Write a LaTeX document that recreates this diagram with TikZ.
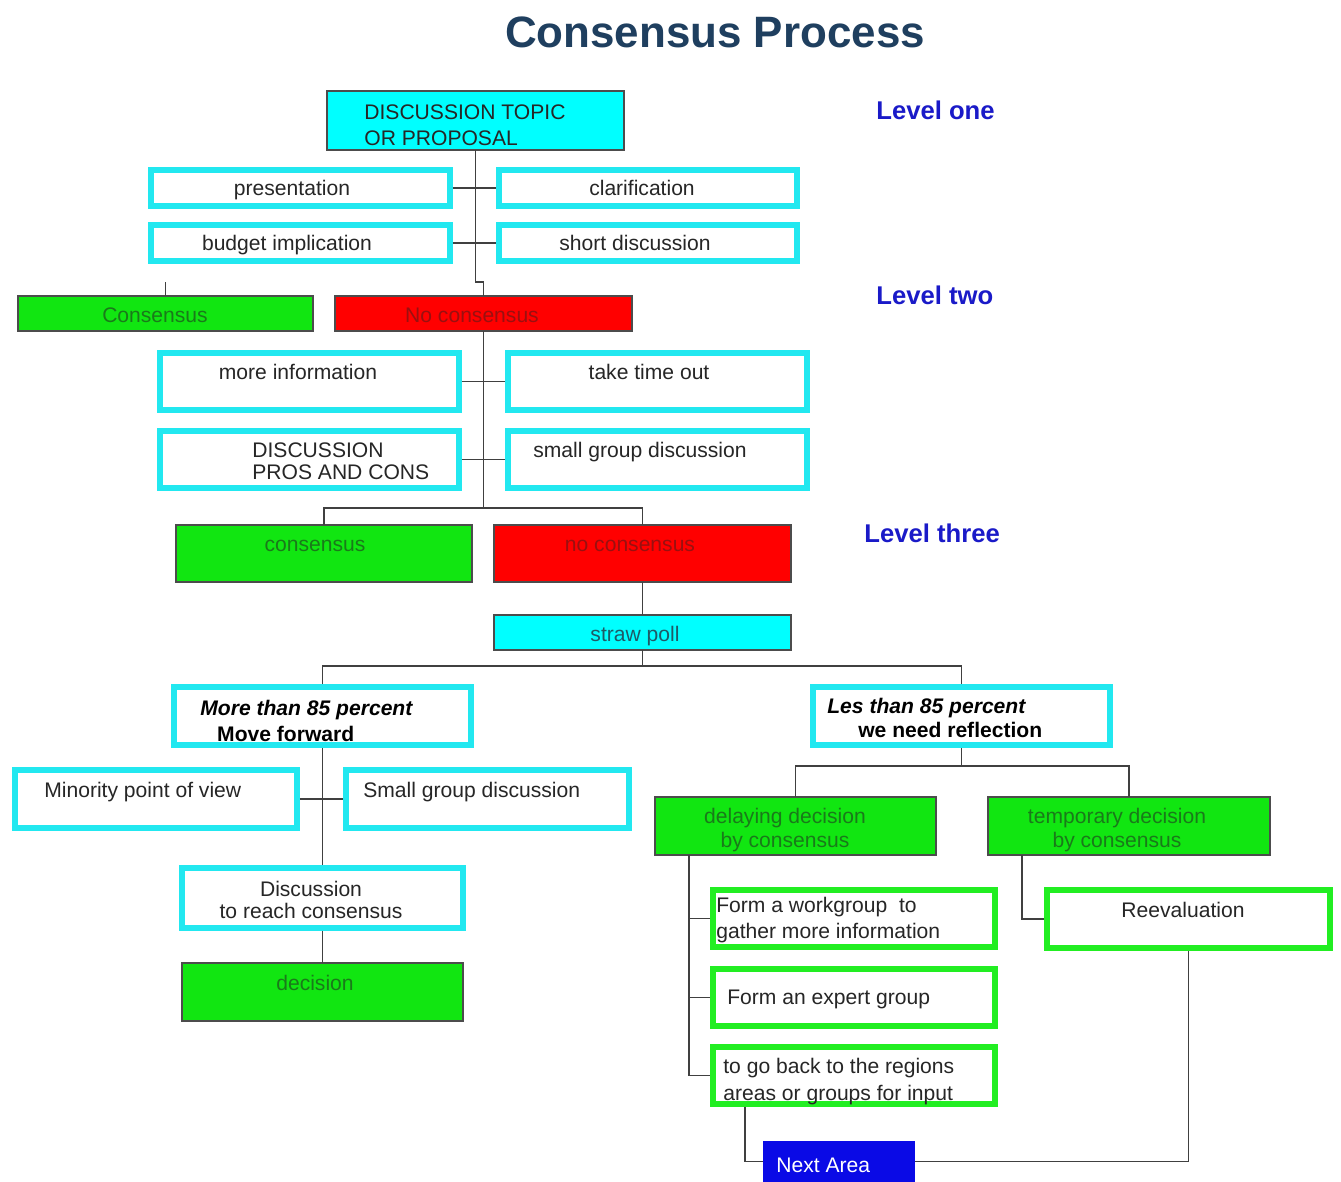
\documentclass[tikz,border=0pt]{standalone}
\usepackage{fontspec}
\setmainfont{Liberation Sans}
\usetikzlibrary{fit}
\definecolor{topiccyan}{HTML}{00FFFF}
\definecolor{framecyan}{HTML}{22E8F0}
\definecolor{agreegreen}{HTML}{11E611}
\definecolor{framegreen}{HTML}{22EE22}
\definecolor{agreetext}{HTML}{1A7A1A}
\definecolor{blockred}{HTML}{FF0000}
\definecolor{blocktext}{HTML}{9A1010}
\definecolor{pollteal}{HTML}{1F5A66}
\definecolor{nextblue}{HTML}{0A0AE6}
\definecolor{titleblue}{HTML}{1F3F5F}
\definecolor{levelblue}{HTML}{1A1AC8}

\tikzset{
  fillbox/.style={rectangle, inner sep=0pt, outer sep=0pt, draw=black!70, line width=0.6pt},
  cyanframe/.style={rectangle, inner sep=0pt, draw=framecyan, line width=3.4pt, fill=white},
  greenframe/.style={rectangle, inner sep=0pt, draw=framegreen, line width=3.4pt, fill=white},
  lbl/.style={inner sep=0pt, text=black!85, font=\fontsize{12}{15}\selectfont},
  levellbl/.style={inner sep=0pt, anchor=base west, text=levelblue, font=\fontsize{14.6}{17}\selectfont\bfseries},
  conn/.style={draw=black!75, line width=0.8pt}
}

\begin{document}
\begin{tikzpicture}[x=0.02cm, y=-0.02cm]

  % Canvas
  \fill[white] (0,0) rectangle (1341,1182);
  \useasboundingbox (0,0) rectangle (1341,1182);

  % Title and levels
  \node[inner sep=0pt, anchor=base, text=titleblue, font=\fontsize{25}{30}\selectfont\bfseries] (title) at (715,48) {Consensus Process};
  \node[levellbl] (lvlone) at (876,120) {Level one};
  \node[levellbl] (lvltwo) at (876,305) {Level two};
  \node[levellbl] (lvlthree) at (864,542) {Level three};

  % ==================== LEVEL ONE ====================
  \node[fillbox, fill=topiccyan, fit={(327,91) (624,150)}] (topic) {};
  \node[lbl, anchor=north west, align=left, font=\fontsize{12}{14.7}\selectfont] at (364,104.6) {DISCUSSION TOPIC\\OR PROPOSAL};

  \node[cyanframe, fit={(151,170) (450,206)}] (pres) {};
  \node[lbl, anchor=base] at (292,196) {presentation};
  \node[cyanframe, fit={(499,170) (797,206)}] (clar) {};
  \node[lbl, anchor=base] at (642,196) {clarification};
  \node[cyanframe, fit={(151,225) (450,261)}] (budget) {};
  \node[lbl, anchor=base] at (287,251) {budget implication};
  \node[cyanframe, fit={(499,225) (797,261)}] (short) {};
  \node[lbl, anchor=base] at (635,251) {short discussion};

  \node[fillbox, fill=agreegreen, fit={(18,296) (313,331)}] (cons) {};
  \node[lbl, anchor=base, text=agreetext] at (155,322) {Consensus};
  \node[fillbox, fill=blockred, fit={(335,296) (632,331)}] (nocons) {};
  \node[lbl, anchor=base, text=blocktext] at (472,322) {No consensus};

  % ==================== LEVEL TWO ====================
  \node[cyanframe, fit={(160,353) (459,410)}] (moreinfo) {};
  \node[lbl, anchor=base] at (298,379) {more information};
  \node[cyanframe, fit={(508,353) (807,410)}] (timeout) {};
  \node[lbl, anchor=base] at (649,379) {take time out};
  \node[cyanframe, fit={(160,431) (459,488)}] (proscons) {};
  \node[lbl, anchor=north west, align=left, font=\fontsize{12}{12.5}\selectfont] at (252,442.6) {DISCUSSION\\PROS AND CONS};
  \node[cyanframe, fit={(508,431) (807,488)}] (smallgrp) {};
  \node[lbl, anchor=base west] at (533,457) {small group discussion};

  \node[fillbox, fill=agreegreen, fit={(176,525) (472,582)}] (cons2) {};
  \node[lbl, anchor=base, text=agreetext] at (315,551) {consensus};
  \node[fillbox, fill=blockred, fit={(494,525) (791,582)}] (nocons2) {};
  \node[lbl, anchor=base, text=blocktext] at (630,551) {no consensus};

  % ==================== LEVEL THREE ====================
  \node[fillbox, fill=topiccyan, fit={(494,615) (791,650)}] (straw) {};
  \node[lbl, anchor=base, text=pollteal] at (635,641) {straw poll};

  % Left branch
  \node[cyanframe, fit={(174,687) (471,745)}] (more85) {};
  \node[lbl, anchor=north west, align=left, text=black, font=\fontsize{12}{14.7}\selectfont\bfseries] at (200,699.6) {\itshape More than 85 percent\\\hspace*{9.6pt}Move forward};
  \node[cyanframe, fit={(15,770) (297,828)}] (minority) {};
  \node[lbl, anchor=base west] at (44,797) {Minority point of view};
  \node[cyanframe, fit={(346,770) (629,828)}] (smallgrp2) {};
  \node[lbl, anchor=base west] at (363,797) {Small group discussion};
  \node[cyanframe, fit={(182,868) (463,928)}] (discreach) {};
  \node[lbl, anchor=north, align=center, font=\fontsize{12}{12.5}\selectfont] at (311,880.6) {Discussion\\to reach consensus};
  \node[fillbox, fill=agreegreen, fit={(182,963) (463,1021)}] (decision) {};
  \node[lbl, anchor=base, text=agreetext] at (315,990) {decision};

  % Right branch
  \node[cyanframe, fit={(813,687) (1110,745)}] (les85) {};
  \node[lbl, anchor=north west, align=left, text=black, font=\fontsize{12}{13.6}\selectfont\bfseries] at (827,697.6) {\itshape Les than 85 percent\\\hspace*{17.6pt}we need reflection};
  \node[fillbox, fill=agreegreen, fit={(655,797) (936,855)}] (delay) {};
  \node[lbl, anchor=north, align=center, text=agreetext, font=\fontsize{12}{13.6}\selectfont] at (785,807.6) {delaying decision\\by consensus};
  \node[fillbox, fill=agreegreen, fit={(988,797) (1270,855)}] (temp) {};
  \node[lbl, anchor=north, align=center, text=agreetext, font=\fontsize{12}{13.6}\selectfont] at (1117,807.6) {temporary decision\\by consensus};

  \node[greenframe, fit={(713,890) (995,947)}] (workgrp) {};
  \node[lbl, anchor=north west, align=left, font=\fontsize{12}{14.7}\selectfont] at (716,896.6) {Form a workgroup\ \ to\\gather more information};
  \node[greenframe, fit={(713,969) (995,1026)}] (expert) {};
  \node[lbl, anchor=base west] at (727,1004) {Form an expert group};
  \node[greenframe, fit={(713,1047) (995,1104)}] (goback) {};
  \node[lbl, anchor=north west, align=left, font=\fontsize{12}{15.3}\selectfont] at (723,1057.6) {to go back to the regions\\areas or groups for input};
  \node[greenframe, fit={(1047,890) (1330,948)}] (reeval) {};
  \node[lbl, anchor=base] at (1183,917) {Reevaluation};

  \node[rectangle, inner sep=0pt, outer sep=0pt, fill=nextblue, fit={(763,1141) (915,1182)}] (next) {};
  \node[lbl, anchor=base west, text=white] at (776,1172) {Next Area};

  % ==================== CONNECTORS ====================
  \coordinate (jog) at (0,282);
  \coordinate (split2) at (0,508);
  \coordinate (split3) at (0,666);
  \coordinate (split4) at (0,766);
  \coordinate (trunk) at (689,0);
  \coordinate (ttrunk) at (1022,0);
  \coordinate (ntrunk) at (745,0);

  \draw[conn] (topic.south) -- (topic.south |- jog) -| (nocons.north);
  \draw[conn] (pres.east) -- (clar.west);
  \draw[conn] (budget.east) -- (short.west);
  \draw[conn] (cons.north) -- ++(0,-14);

  \draw[conn] (nocons.south) -- (nocons.south |- split2);
  \draw[conn] (moreinfo.east) -- (timeout.west);
  \draw[conn] (proscons.east) -- (smallgrp.west);
  \draw[conn] (cons2.north) -- (cons2.north |- split2) -| (nocons2.north);

  \draw[conn] (nocons2.south) -- (straw.north);
  \draw[conn] (straw.south) -- (straw.south |- split3);
  \draw[conn] (more85.north) |- (split3 -| les85.north) -- (les85.north);

  \draw[conn] (more85.south) -- (discreach.north);
  \draw[conn] (minority.east) -- (smallgrp2.west);
  \draw[conn] (discreach.south) -- (decision.north);

  \draw[conn] (les85.south) -- (les85.south |- split4);
  \draw[conn] (delay.north) |- (split4 -| temp.north) -- (temp.north);
  \draw[conn] (delay.south -| trunk) |- (goback.west);
  \draw[conn] (workgrp.west) -- (workgrp.west -| trunk);
  \draw[conn] (expert.west) -- (expert.west -| trunk);
  \draw[conn] (temp.south -| ttrunk) |- (reeval.west);
  \draw[conn] (goback.south -| ntrunk) |- (next.west);
  \draw[conn] (reeval.south) |- (next.east);

\end{tikzpicture}
\end{document}
